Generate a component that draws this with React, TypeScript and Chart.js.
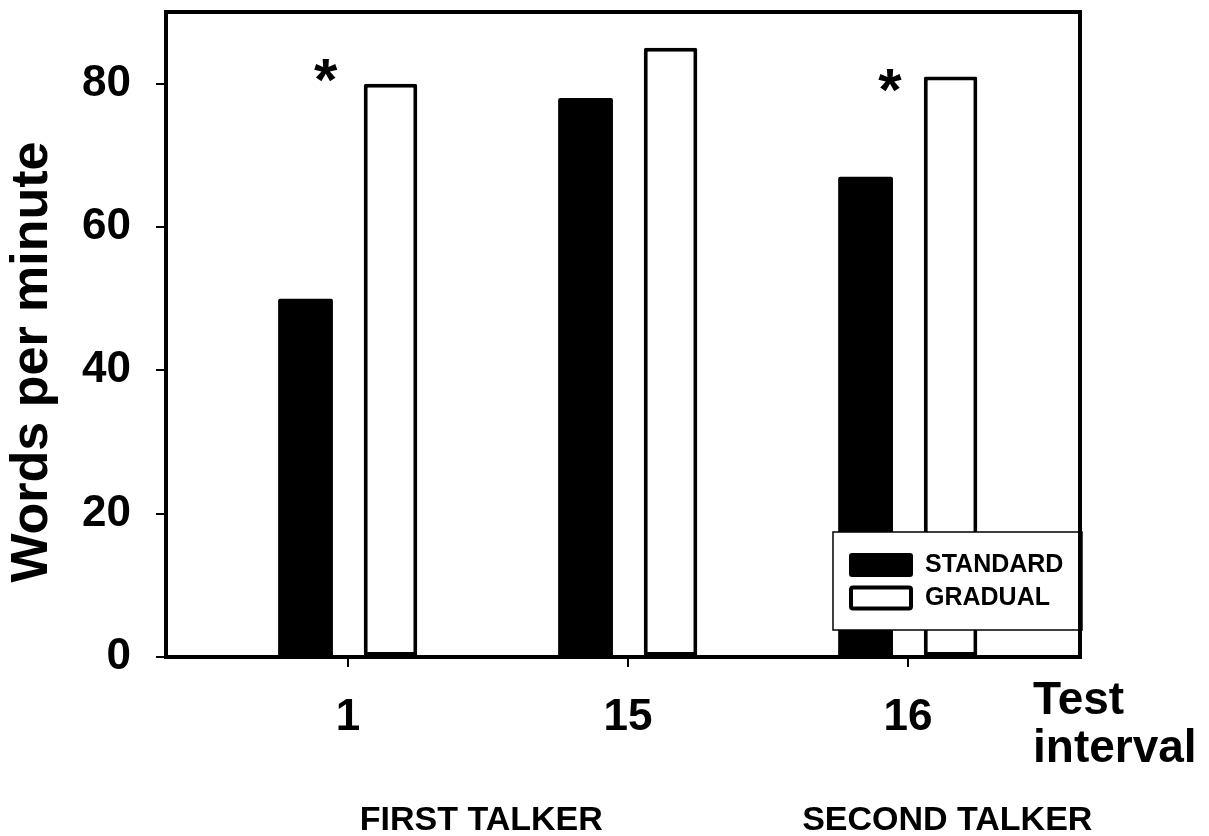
import React, { useEffect, useRef } from "react";
import { Chart, registerables } from "chart.js";

Chart.register(...registerables);

// ---- data ----
const testIntervals = ["1", "15", "16"];
const standardWpm = [50, 78, 67];
const gradualWpm = [80, 85, 81];
const seriesNames = ["STANDARD", "GRADUAL"];
const yTickValues = [0, 20, 40, 60, 80];
// significance markers: category position (x, in axis units) and value (y)
const starX = [-0.08, 1.935];
const starY = [82.3, 80.9];
const talkerLabels = ["FIRST TALKER", "SECOND TALKER"];
const talkerX = [0.476, 2.14];

const FONT = "'Liberation Sans', Arial, Helvetica, sans-serif";

const framePlugin = {
  id: "frameAndNotes",
  afterDatasetsDraw(chart: any) {
    const { ctx, chartArea, scales } = chart;
    const xs = scales.x;
    const ys = scales.y;
    ctx.save();
    // asterisks
    ctx.fillStyle = "#000";
    ctx.font = `bold 60px ${FONT}`;
    ctx.textAlign = "center";
    ctx.textBaseline = "alphabetic";
    starX.forEach((sx, i) => {
      const px = xs.getPixelForValue(sx);
      const py = ys.getPixelForValue(starY[i]);
      ctx.fillText("*", px, py + 33);
    });

    // legend box
    const lx = 833, ly = 532, lw = 249, lh = 98;
    ctx.fillStyle = "#fff";
    ctx.fillRect(lx, ly, lw, lh);
    ctx.lineWidth = 1.5;
    ctx.strokeStyle = "#000";
    ctx.strokeRect(lx, ly, lw, lh);
    const ds = chart.data.datasets;
    ctx.font = `bold 25px ${FONT}`;
    ctx.textAlign = "left";
    ctx.textBaseline = "middle";
    ds.forEach((d: any, i: number) => {
      const sy = 553 + i * 33;
      ctx.beginPath();
      if (d.borderWidth > 0) {
        ctx.fillStyle = d.backgroundColor;
        ctx.roundRect(851, sy + 1.5, 60, 21, 2);
        ctx.fill();
        ctx.lineWidth = 4;
        ctx.strokeStyle = d.borderColor;
        ctx.stroke();
      } else {
        ctx.fillStyle = d.backgroundColor;
        ctx.roundRect(849, sy, 64, 24, 3);
        ctx.fill();
      }
      ctx.fillStyle = "#000";
      ctx.fillText(d.label, 925, sy + 12);
    });

    // frame
    ctx.lineWidth = 4;
    ctx.strokeStyle = "#000";
    ctx.strokeRect(
      chartArea.left,
      chartArea.top,
      chartArea.right - chartArea.left,
      chartArea.bottom - chartArea.top
    );

    // y title
    ctx.save();
    ctx.translate(33, 362);
    ctx.rotate(-Math.PI / 2);
    ctx.font = `bold 52px ${FONT}`;
    ctx.textAlign = "center";
    ctx.textBaseline = "middle";
    ctx.fillStyle = "#000";
    ctx.fillText("Words per minute", 0, 0);
    ctx.restore();

    // x title
    ctx.font = `bold 46px ${FONT}`;
    ctx.textAlign = "left";
    ctx.textBaseline = "alphabetic";
    ctx.fillText("Test", 1033, 714);
    ctx.fillText("interval", 1033, 762);

    // talker labels
    ctx.font = `bold 34px ${FONT}`;
    ctx.textAlign = "center";
    talkerLabels.forEach((t, i) => {
      ctx.fillText(t, xs.getPixelForValue(talkerX[i]), 830);
    });
    ctx.restore();
  },
};

export default function App() {
  const canvasRef = useRef<HTMLCanvasElement | null>(null);

  useEffect(() => {
    const canvas = canvasRef.current;
    if (!canvas) return;
    const chart = new Chart(canvas, {
      type: "bar",
      data: {
        datasets: [
          {
            label: seriesNames[0],
            data: standardWpm.map((v, i) => ({ x: i, y: v })),
            backgroundColor: "#000",
            borderColor: "#000",
            borderWidth: 0,
            borderRadius: 2,
            categoryPercentage: 0.607,
            barPercentage: 0.645,
          },
          {
            label: seriesNames[1],
            data: gradualWpm.map((v, i) => ({ x: i, y: v })),
            backgroundColor: "#fff",
            borderColor: "#000",
            borderWidth: 4,
            borderSkipped: false,
            borderRadius: 2,
            categoryPercentage: 0.607,
            barPercentage: 0.63,
          },
        ],
      },
      options: {
        responsive: false,
        animation: false,
        events: [],
        layout: { padding: { top: 12, right: 129, left: 0, bottom: 0 } },
        plugins: {
          legend: { display: false },
          tooltip: { enabled: false },
          title: { display: false },
        },
        scales: {
          x: {
            type: "linear",
            min: -0.65,
            max: 2.614,
            offset: false,
            grid: {
              offset: false,
              drawOnChartArea: false,
              drawTicks: true,
              tickLength: 10,
              lineWidth: 2,
              color: "#000",
            },
            border: { display: false },
            ticks: {
              color: "#000",
              font: { family: FONT, size: 44, weight: "bold" },
              padding: 24,
              autoSkip: false,
              maxRotation: 0,
              callback: (v: any) => testIntervals[v as number] ?? "",
            },
            afterBuildTicks: (scale: any) => {
              scale.ticks = testIntervals.map((_, i) => ({ value: i }));
            },
            afterFit: (scale: any) => {
              scale.height = 836 - 657;
              scale.paddingLeft = 0;
              scale.paddingRight = 0;
              scale.paddingTop = 0;
              scale.paddingBottom = 0;
            },
          },
          y: {
            type: "linear",
            min: 0,
            max: 90,
            grid: {
              drawOnChartArea: false,
              drawTicks: true,
              tickLength: 10,
              lineWidth: 2,
              color: "#000",
            },
            border: { display: false },
            ticks: {
              color: "#000",
              font: { family: FONT, size: 44, weight: "bold" },
              padding: 25,
              includeBounds: false,
            },
            afterBuildTicks: (scale: any) => {
              scale.ticks = yTickValues.map((v) => ({ value: v }));
            },
            afterFit: (scale: any) => {
              scale.width = 166;
              scale.paddingLeft = 0;
              scale.paddingRight = 0;
              scale.paddingTop = 0;
              scale.paddingBottom = 0;
            },
          },
        },
      },
      plugins: [framePlugin],
    });
    return () => chart.destroy();
  }, []);

  return (
    <div style={{ position: "absolute", left: 0, top: 0, width: 1209, height: 836, background: "#fff" }}>
      <canvas ref={canvasRef} width={1209} height={836} style={{ display: "block" }} />
    </div>
  );
}
